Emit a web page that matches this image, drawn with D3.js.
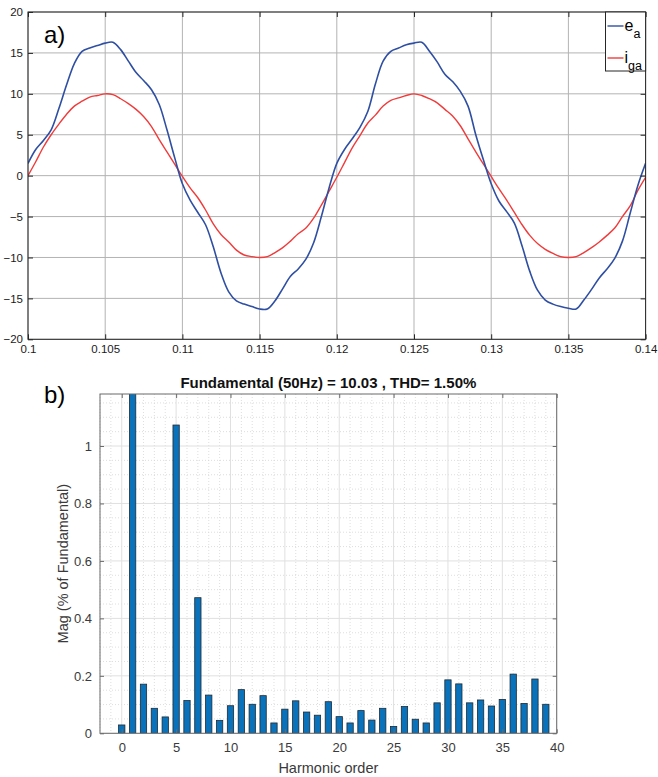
<!DOCTYPE html>
<html>
<head>
<meta charset="utf-8">
<script src="https://cdn.jsdelivr.net/npm/d3@7"></script>
<style>
  html, body { margin: 0; padding: 0; background: #fff; }
  svg { display: block; font-family: "Liberation Sans", Arial, Helvetica, sans-serif; }
</style>
</head>
<body>
<svg id="fig" width="658" height="777"></svg>
<script>
// ---------- Panel a) : grid voltage e_a and grid current i_ga ----------
const timeStart = 0.1;      // s
const timeStep = 0.0005;    // s, sampling interval of the traces

const eaValues = [
  1.5, 3.2, 4.3, 5.6, 8.2, 11.1, 13.7, 15.2, 15.6, 15.9,
  16.2, 16.3, 15.4, 14.0, 12.6, 11.6, 10.5, 8.7, 5.6, 2.2,
  -1.0, -3.0, -4.5, -6.0, -8.7, -11.9, -14.2, -15.3, -15.7, -16.0,
  -16.3, -16.3, -15.3, -13.8, -12.3, -11.4, -10.2, -8.2, -5.0, -1.5,
  1.5, 3.2, 4.5, 5.9, 7.8, 11.2, 14.0, 15.2, 15.6, 16.0,
  16.2, 16.3, 15.2, 13.9, 12.4, 11.5, 10.3, 8.5, 5.0, 1.9,
  -1.0, -3.1, -4.4, -5.8, -8.6, -11.7, -14.0, -15.2, -15.7, -16.0,
  -16.2, -16.3, -15.2, -13.9, -12.5, -11.4, -10.1, -8.0, -4.6, -1.2,
  1.5
];

const igaValues = [
  0.0, 1.7, 3.5, 5.0, 6.3, 7.5, 8.5, 9.1, 9.6, 9.8,
  10.0, 9.9, 9.4, 8.8, 8.1, 7.2, 6.0, 4.4, 2.9, 1.4,
  -0.1, -1.5, -2.7, -4.2, -5.9, -7.2, -8.1, -9.1, -9.7, -9.9,
  -10.0, -9.9, -9.4, -8.8, -8.0, -7.1, -6.4, -5.2, -3.6, -1.9,
  -0.2, 1.6, 3.4, 4.9, 6.4, 7.4, 8.5, 9.2, 9.5, 9.8,
  10.0, 9.8, 9.4, 8.9, 8.1, 7.3, 6.1, 4.5, 2.9, 1.4,
  -0.1, -1.6, -3.0, -4.5, -6.0, -7.3, -8.3, -9.0, -9.5, -9.9,
  -10.0, -9.9, -9.4, -8.8, -8.1, -7.3, -6.4, -5.0, -3.7, -1.8,
  -0.2
];

const timeTicks = [0.1, 0.105, 0.11, 0.115, 0.12, 0.125, 0.13, 0.135, 0.14];
const timeTickLabels = ["0.1", "0.105", "0.11", "0.115", "0.12", "0.125", "0.13", "0.135", "0.14"];
const waveTicks = [-20, -15, -10, -5, 0, 5, 10, 15, 20];

// ---------- Panel b) : harmonic spectrum of i_ga ----------
const harmonicOrders = [0, 1, 2, 3, 4, 5, 6, 7, 8, 9, 10, 11, 12, 13, 14, 15, 16, 17, 18, 19,
  20, 21, 22, 23, 24, 25, 26, 27, 28, 29, 30, 31, 32, 33, 34, 35, 36, 37, 38, 39];
const harmonicMag = [
  0.029, 100, 0.171, 0.087, 0.057, 1.073, 0.114, 0.472, 0.133, 0.045,
  0.096, 0.152, 0.101, 0.131, 0.036, 0.084, 0.113, 0.074, 0.063, 0.110,
  0.058, 0.036, 0.079, 0.046, 0.087, 0.024, 0.093, 0.049, 0.036, 0.106,
  0.186, 0.172, 0.106, 0.116, 0.095, 0.118, 0.206, 0.104, 0.189, 0.101
];
const orderTicks = [0, 5, 10, 15, 20, 25, 30, 35, 40];
const magTicks = [0, 0.2, 0.4, 0.6, 0.8, 1];
const magTickLabels = ["0", "0.2", "0.4", "0.6", "0.8", "1"];
const spectrumTitle = "Fundamental (50Hz) = 10.03 , THD= 1.50%";

const svg = d3.select("#fig");

// ================= panel a =================
const A = { left: 28, right: 645.6, top: 12, bottom: 339.3 };
const xA = d3.scaleLinear().domain([0.1, 0.14]).range([A.left, A.right]);
const yA = d3.scaleLinear().domain([-20, 20]).range([A.bottom, A.top]);
const gA = svg.append("g");

// grid
gA.append("g").selectAll("line").data(timeTicks).join("line")
  .attr("x1", d => xA(d)).attr("x2", d => xA(d))
  .attr("y1", A.top).attr("y2", A.bottom)
  .attr("stroke", "#b3b3b3").attr("stroke-width", 1);
gA.append("g").selectAll("line").data(waveTicks).join("line")
  .attr("x1", A.left).attr("x2", A.right)
  .attr("y1", d => yA(d)).attr("y2", d => yA(d))
  .attr("stroke", "#b3b3b3").attr("stroke-width", 1);

svg.append("clipPath").attr("id", "clipA").append("rect")
  .attr("x", A.left).attr("y", A.top)
  .attr("width", A.right - A.left).attr("height", A.bottom - A.top);

const timeOf = i => timeStart + i * timeStep;
const lineA = vals => d3.line()
  .x((d, i) => xA(timeOf(i)))
  .y(d => yA(d))
  .curve(d3.curveCatmullRom.alpha(0.5))(vals);

gA.append("path").attr("d", lineA(igaValues))
  .attr("fill", "none").attr("stroke", "#f03b3b").attr("stroke-width", 1.4)
  .attr("clip-path", "url(#clipA)");
gA.append("path").attr("d", lineA(eaValues))
  .attr("fill", "none").attr("stroke", "#2f4fa3").attr("stroke-width", 1.6)
  .attr("clip-path", "url(#clipA)");

// axes (inward ticks, MATLAB style)
const styleAxis = (g, size, fill) => {
  g.select(".domain").remove();
  g.selectAll(".tick line").attr("stroke", "#262626");
  g.selectAll(".tick text").attr("font-size", size).attr("fill", fill)
    .attr("font-family", "'Liberation Sans', Arial, sans-serif");
};
gA.append("g").attr("transform", `translate(0,${A.bottom})`)
  .call(d3.axisBottom(xA).tickValues(timeTicks).tickFormat((d, i) => timeTickLabels[i]).tickSize(-5).tickPadding(6))
  .call(g => styleAxis(g, 11.5, "#1a1a1a"));
gA.append("g").attr("transform", `translate(${A.left},0)`)
  .call(d3.axisLeft(yA).tickValues(waveTicks).tickSize(-5).tickPadding(5))
  .call(g => styleAxis(g, 11.5, "#1a1a1a"));
gA.append("g").attr("transform", `translate(0,${A.top})`)
  .call(d3.axisTop(xA).tickValues(timeTicks).tickFormat("").tickSize(-5))
  .call(g => styleAxis(g, 11.5, "#1a1a1a"));
gA.append("g").attr("transform", `translate(${A.right},0)`)
  .call(d3.axisRight(yA).tickValues(waveTicks).tickFormat("").tickSize(-5))
  .call(g => styleAxis(g, 11.5, "#1a1a1a"));
gA.append("rect").attr("x", A.left).attr("y", A.top)
  .attr("width", A.right - A.left).attr("height", A.bottom - A.top)
  .attr("fill", "none").attr("stroke", "#262626").attr("stroke-width", 1);

// legend
const leg = gA.append("g");
leg.append("rect").attr("x", 605.5).attr("y", A.top).attr("width", A.right - 605.5).attr("height", 59)
  .attr("fill", "#fff").attr("stroke", "#262626").attr("stroke-width", 1);
const legendItems = [
  { base: "e", sub: "a", color: "#2f4fa3", y: 26 },
  { base: "i", sub: "ga", color: "#f03b3b", y: 58 }
];
legendItems.forEach(it => {
  leg.append("line").attr("x1", 607.5).attr("x2", 623.5).attr("y1", it.y).attr("y2", it.y)
    .attr("stroke", it.color).attr("stroke-width", 1.4);
  const t = leg.append("text").attr("x", 624.5).attr("y", it.y + 5).attr("font-size", 16).attr("fill", "#000");
  t.append("tspan").text(it.base);
  t.append("tspan").attr("font-size", 12.5).attr("dy", 7).text(it.sub);
});

svg.append("text").attr("x", 44).attr("y", 43).attr("font-size", 24).attr("fill", "#000").text("a)");

// ================= panel b =================
const B = { left: 100, right: 556.7, top: 394, bottom: 733.3 };
const xB = d3.scaleLinear().domain([-2, 40]).range([B.left, B.right]);
const yB = d3.scaleLinear().domain([0, 1.181]).range([B.bottom, B.top]);
const gB = svg.append("g");

// minor grid (dotted)
const minorX = d3.range(-2, 41).filter(v => v % 5 !== 0);
const minorY = d3.range(1, 24).map(k => k * 0.05).filter((v, k) => (k + 1) % 4 !== 0);
gB.append("g").selectAll("line").data(minorX).join("line")
  .attr("x1", d => xB(d)).attr("x2", d => xB(d)).attr("y1", B.top).attr("y2", B.bottom)
  .attr("stroke", "#d6d6d6").attr("stroke-width", 0.8).attr("stroke-dasharray", "1,2");
gB.append("g").selectAll("line").data(minorY).join("line")
  .attr("x1", B.left).attr("x2", B.right).attr("y1", d => yB(d)).attr("y2", d => yB(d))
  .attr("stroke", "#d6d6d6").attr("stroke-width", 0.8).attr("stroke-dasharray", "1,2");
// major grid
gB.append("g").selectAll("line").data(orderTicks).join("line")
  .attr("x1", d => xB(d)).attr("x2", d => xB(d)).attr("y1", B.top).attr("y2", B.bottom)
  .attr("stroke", "#e0e0e0").attr("stroke-width", 1);
gB.append("g").selectAll("line").data(magTicks).join("line")
  .attr("x1", B.left).attr("x2", B.right).attr("y1", d => yB(d)).attr("y2", d => yB(d))
  .attr("stroke", "#e0e0e0").attr("stroke-width", 1);

svg.append("clipPath").attr("id", "clipB").append("rect")
  .attr("x", B.left).attr("y", B.top)
  .attr("width", B.right - B.left).attr("height", B.bottom - B.top);

const barHalf = 0.29;
gB.append("g").attr("clip-path", "url(#clipB)")
  .selectAll("rect").data(harmonicOrders).join("rect")
  .attr("x", d => xB(d - barHalf))
  .attr("width", xB(barHalf) - xB(-barHalf))
  .attr("y", (d, i) => yB(harmonicMag[i]))
  .attr("height", (d, i) => yB(0) - yB(harmonicMag[i]))
  .attr("fill", "#0a72ba").attr("stroke", "#1f2a33").attr("stroke-width", 0.8);

const styleAxisB = g => {
  g.select(".domain").remove();
  g.selectAll(".tick line").attr("stroke", "#6b6b6b");
  g.selectAll(".tick text").attr("font-size", 13).attr("fill", "#3a3a3a")
    .attr("font-family", "'Liberation Sans', Arial, sans-serif");
};
gB.append("g").attr("transform", `translate(0,${B.bottom})`)
  .call(d3.axisBottom(xB).tickValues(orderTicks).tickSize(-4).tickPadding(9))
  .call(styleAxisB);
gB.append("g").attr("transform", `translate(${B.left},0)`)
  .call(d3.axisLeft(yB).tickValues(magTicks).tickFormat((d, i) => magTickLabels[i]).tickSize(-4).tickPadding(8))
  .call(styleAxisB);
gB.append("g").attr("transform", `translate(0,${B.top})`)
  .call(d3.axisTop(xB).tickValues(orderTicks).tickFormat("").tickSize(-4))
  .call(styleAxisB);
gB.append("g").attr("transform", `translate(${B.right},0)`)
  .call(d3.axisRight(yB).tickValues(magTicks).tickFormat("").tickSize(-4))
  .call(styleAxisB);
gB.append("rect").attr("x", B.left).attr("y", B.top)
  .attr("width", B.right - B.left).attr("height", B.bottom - B.top)
  .attr("fill", "none").attr("stroke", "#6b6b6b").attr("stroke-width", 1);

svg.append("text").attr("x", (B.left + B.right) / 2).attr("y", 388)
  .attr("text-anchor", "middle").attr("font-size", 15).attr("font-weight", "bold").attr("fill", "#111")
  .text(spectrumTitle);
svg.append("text").attr("x", (B.left + B.right) / 2).attr("y", 773)
  .attr("text-anchor", "middle").attr("font-size", 14.5).attr("fill", "#3a3a3a")
  .text("Harmonic order");
svg.append("text").attr("transform", `translate(68,${(B.top + B.bottom) / 2}) rotate(-90)`)
  .attr("text-anchor", "middle").attr("font-size", 14.5).attr("fill", "#3a3a3a")
  .text("Mag (% of Fundamental)");
svg.append("text").attr("x", 44).attr("y", 403).attr("font-size", 24).attr("fill", "#000").text("b)");
</script>
</body>
</html>
